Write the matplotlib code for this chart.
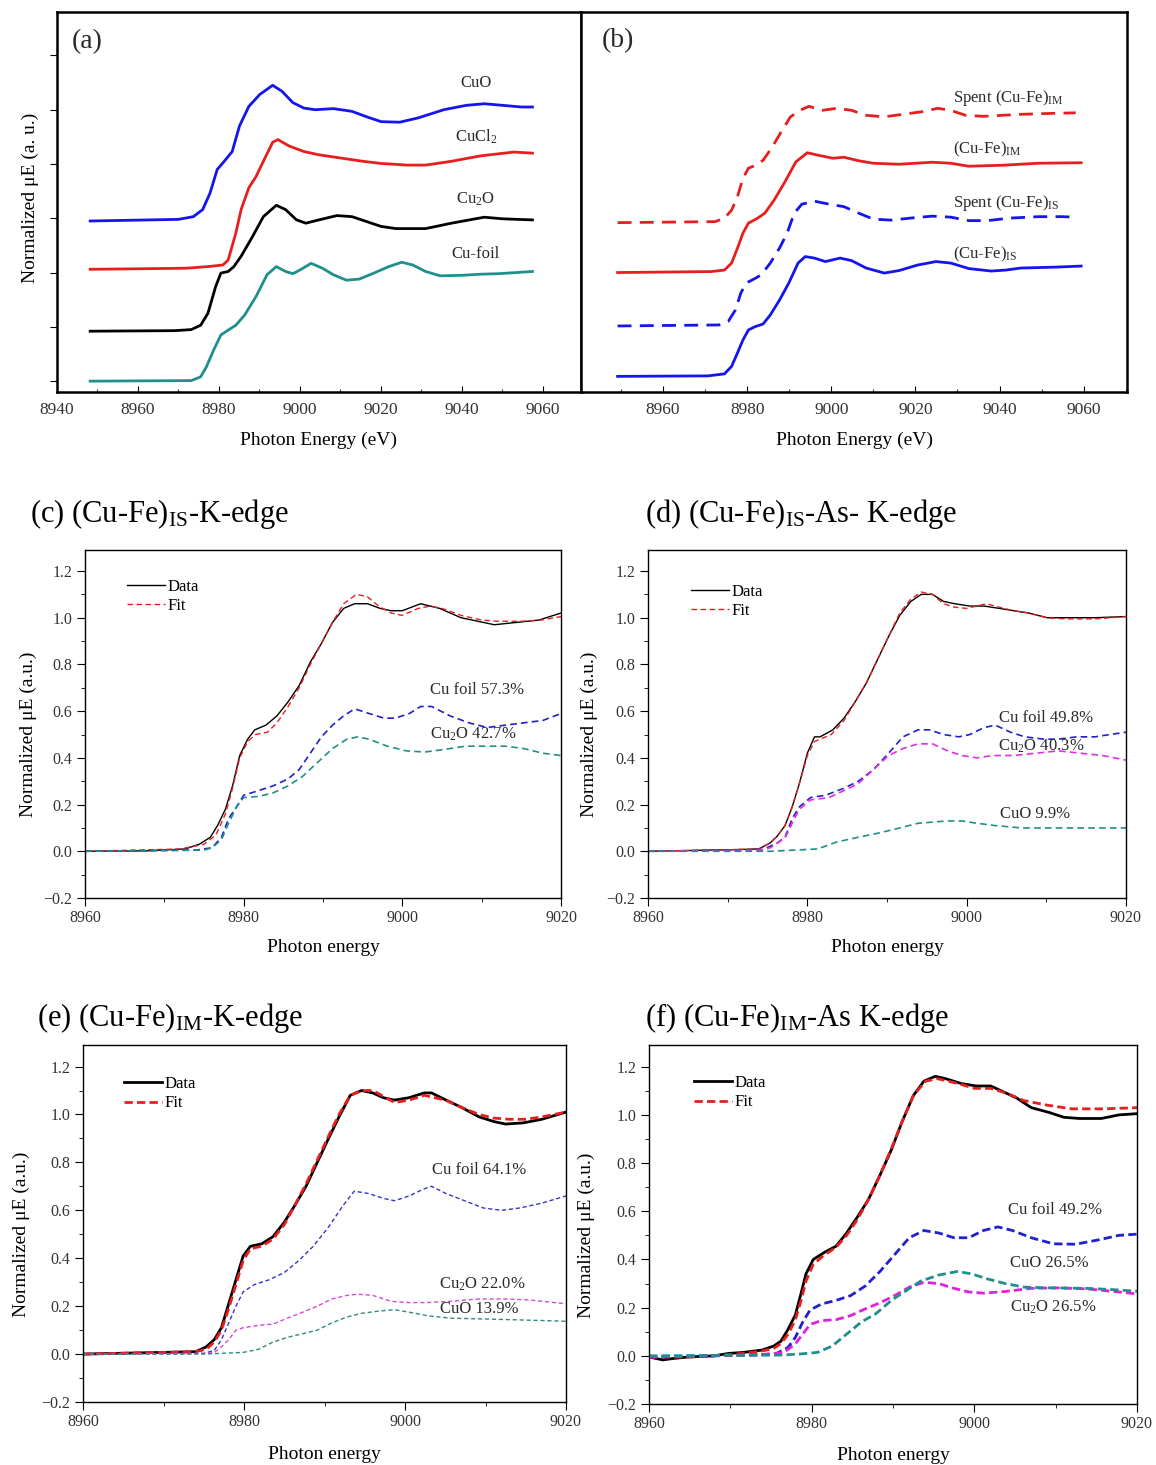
import numpy as np
import matplotlib
matplotlib.use("Agg")
import matplotlib.pyplot as plt
from matplotlib.ticker import MultipleLocator

plt.rcParams['font.family'] = ['Liberation Serif', 'DejaVu Serif']
plt.rcParams['mathtext.fontset'] = 'custom'
plt.rcParams['mathtext.rm'] = 'Liberation Serif'
plt.rcParams['mathtext.it'] = 'Liberation Serif:italic'

W, H = 1156, 1465

# ------------------------
# (a) reference spectra (stacked, arbitrary offsets)
# ------------------------
a_cuo_x = [8948.2, 8970, 8973.7, 8976, 8977.8, 8979.6, 8981, 8983.3, 8985.1, 8987.4, 8990.1, 8993.3, 8995.6,
           8998.3, 9001, 9003.8, 9008.3, 9012.9, 9016.5, 9020.1, 9024.7, 9029.3, 9035.6, 9041.1, 9045.6,
           9050.2, 9054.8, 9057.5]
a_cuo_y = [2.95, 2.98, 3.03, 3.16, 3.46, 3.90, 4.02, 4.23, 4.70, 5.06, 5.28, 5.45, 5.34, 5.13, 5.03, 5.00,
           5.02, 4.97, 4.87, 4.78, 4.77, 4.85, 5.00, 5.08, 5.11, 5.08, 5.05, 5.05]
a_cucl2_x = [8948.2, 8971.9, 8977.3, 8981, 8982.3, 8984.2, 8985.5, 8987.4, 8989.2, 8991, 8993.3, 8994.6,
             8997.4, 9001, 9004.7, 9010.1, 9015.6, 9020.1, 9026.5, 9031.1, 9037.5, 9044.7, 9052.9, 9057.5]
a_cucl2_y = [2.06, 2.08, 2.11, 2.14, 2.23, 2.73, 3.16, 3.56, 3.77, 4.05, 4.40, 4.45, 4.33, 4.23, 4.17, 4.11,
             4.05, 4.01, 3.98, 3.98, 4.05, 4.15, 4.22, 4.20]
a_cu2o_x = [8948.2, 8969.1, 8973.2, 8975.5, 8977.3, 8979.2, 8980.5, 8982.3, 8983.7, 8985.5, 8988.3, 8991,
            8994.2, 8996.5, 8999.2, 9001.5, 9004.7, 9009.2, 9012.9, 9016.5, 9020.1, 9023.8, 9031.1, 9037.5,
            9045.6, 9050.2, 9057.5]
a_cu2o_y = [0.92, 0.93, 0.95, 1.03, 1.25, 1.74, 1.99, 2.02, 2.11, 2.30, 2.66, 3.03, 3.24, 3.16, 2.97, 2.91,
            2.97, 3.05, 3.03, 2.94, 2.85, 2.81, 2.81, 2.91, 3.02, 2.99, 2.97]
a_cufoil_x = [8948.2, 8973.2, 8975.5, 8976.9, 8978.7, 8980.5, 8982.3, 8984.2, 8986.4, 8989.2, 8991.9, 8994.2,
              8996.5, 8998.3, 9000.1, 9002.8, 9005.6, 9008.3, 9011.5, 9014.7, 9018.3, 9022, 9025.2, 9027.9,
              9031.1, 9034.7, 9040.2, 9044.7, 9049.3, 9057.5]
a_cufoil_y = [0.0, 0.01, 0.08, 0.26, 0.57, 0.85, 0.94, 1.03, 1.22, 1.56, 1.96, 2.11, 2.02, 1.98, 2.05, 2.17,
              2.08, 1.96, 1.86, 1.88, 1.99, 2.11, 2.19, 2.14, 2.02, 1.94, 1.95, 1.97, 1.98, 2.02]
a_labels = ['CuO', 'CuCl$_2$', 'Cu$_2$O', 'Cu-foil']
a_label_y = [5.50, 4.51, 3.35, 2.34]

# ------------------------
# (b) catalysts, fresh and spent
# ------------------------
b_is_x = [8949.2, 8970.7, 8974.6, 8976.3, 8977.7, 8979, 8980.3, 8982, 8983.8, 8985.5, 8987.7, 8989.9, 8992.1,
          8993.8, 8996, 8998.6, 9002.1, 9004.8, 9008.3, 9012.6, 9016.1, 9020.5, 9024.9, 9028.4, 9032.7, 9038,
          9041.5, 9045, 9053.7, 9059.4]
b_is_y = [0.0, 0.01, 0.05, 0.2, 0.47, 0.73, 0.93, 1.0, 1.05, 1.23, 1.53, 1.87, 2.27, 2.40, 2.37, 2.30, 2.37,
          2.32, 2.17, 2.07, 2.12, 2.23, 2.30, 2.27, 2.16, 2.11, 2.13, 2.17, 2.19, 2.21]
b_spent_is_x = [8949.2, 8973.3, 8975.5, 8977.2, 8978.5, 8979.8, 8981.6, 8983.3, 8985.5, 8987.7, 8989.5, 8991.2,
                8993, 8996, 8999.5, 9003, 9006.5, 9010, 9014.4, 9018.7, 9024, 9028.4, 9032.7, 9037.1, 9042.3,
                9049.3, 9054.6, 9058.1]
b_spent_is_y = [1.01, 1.03, 1.10, 1.33, 1.67, 1.87, 1.95, 2.03, 2.27, 2.57, 2.87, 3.27, 3.45, 3.51, 3.45, 3.40,
                3.27, 3.15, 3.13, 3.17, 3.21, 3.19, 3.12, 3.12, 3.17, 3.20, 3.20, 3.19]
b_im_x = [8949.2, 8971.5, 8974.6, 8976.3, 8977.7, 8979, 8980.3, 8982.5, 8984.2, 8986.4, 8989, 8991.6, 8994.3,
          8996.9, 9000.4, 9003, 9006.5, 9010, 9016.1, 9024, 9028.4, 9032.7, 9040.6, 9049.3, 9059.4]
b_im_y = [2.08, 2.10, 2.13, 2.27, 2.57, 2.87, 3.07, 3.17, 3.27, 3.53, 3.90, 4.30, 4.48, 4.43, 4.37, 4.39, 4.32,
          4.27, 4.25, 4.29, 4.27, 4.21, 4.23, 4.27, 4.28]
b_spent_im_x = [8949.2, 8972.4, 8974.6, 8976.3, 8977.7, 8979, 8980.3, 8982, 8983.8, 8986, 8988.1, 8990.3,
                8992.5, 8994.7, 8997.8, 9001.3, 9004.8, 9008.3, 9012.6, 9017, 9021.4, 9025.3, 9028.4, 9031.9,
                9036.2, 9045, 9052.8, 9058.1]
b_spent_im_y = [3.08, 3.10, 3.17, 3.33, 3.60, 3.97, 4.17, 4.23, 4.33, 4.60, 4.90, 5.20, 5.33, 5.41, 5.33, 5.37,
                5.33, 5.23, 5.20, 5.25, 5.30, 5.37, 5.33, 5.23, 5.21, 5.25, 5.27, 5.28]
b_labels = ['Spent (Cu-Fe)$_{\\mathrm{IM}}$', '(Cu-Fe)$_{\\mathrm{IM}}$',
            'Spent (Cu-Fe)$_{\\mathrm{IS}}$', '(Cu-Fe)$_{\\mathrm{IS}}$']
b_label_y = [5.58, 4.55, 3.47, 2.45]

# ------------------------
# (c) (Cu-Fe)IS LCF
# ------------------------
c_data_x = [8960, 8967.9, 8972.6, 8974.4, 8975.8, 8976.7, 8977.7, 8978.6, 8979.5, 8980.5, 8981.4, 8982.8,
            8984.2, 8985.6, 8987, 8988.4, 8989.8, 8991.2, 8992.6, 8994, 8995.6, 8997.2, 8998.6, 9000, 9002.3,
            9004.7, 9007.4, 9010.2, 9011.6, 9014.4, 9017.2, 9020]
c_data_y = [0, 0.002, 0.01, 0.03, 0.06, 0.11, 0.18, 0.28, 0.41, 0.48, 0.52, 0.54, 0.58, 0.64, 0.71, 0.81, 0.89,
            0.98, 1.04, 1.06, 1.06, 1.04, 1.03, 1.03, 1.06, 1.04, 1.00, 0.98, 0.97, 0.98, 0.99, 1.02]
c_fit_x = [8960, 8972, 8975, 8976.5, 8977.7, 8978.6, 8979.5, 8980.5, 8981.5, 8983, 8984.2, 8985.6, 8987, 8988.4,
           8989.8, 8991.2, 8992.6, 8994.2, 8995.6, 8997, 8998.6, 9000, 9002, 9003.5, 9005, 9007.4, 9010, 9012,
           9015, 9017.5, 9020]
c_fit_y = [0, 0.01, 0.03, 0.07, 0.16, 0.27, 0.40, 0.47, 0.50, 0.51, 0.55, 0.62, 0.70, 0.80, 0.89, 0.98, 1.06,
           1.10, 1.09, 1.05, 1.02, 1.01, 1.04, 1.05, 1.04, 1.01, 0.99, 0.985, 0.985, 0.99, 1.005]
c_cufoil_x = [8960, 8974, 8976, 8977.2, 8978.1, 8979.1, 8980, 8981.9, 8983.7, 8985.6, 8987, 8988.4, 8989.8,
              8991.2, 8992.6, 8994, 8995.8, 8997.7, 8999.1, 9000.9, 9002.3, 9003.7, 9006, 9008.4, 9010.7, 9013,
              9015.3, 9017.7, 9020]
c_cufoil_y = [0, 0.005, 0.015, 0.06, 0.14, 0.19, 0.24, 0.26, 0.28, 0.31, 0.35, 0.42, 0.49, 0.54, 0.58, 0.61,
              0.59, 0.57, 0.57, 0.59, 0.62, 0.62, 0.58, 0.55, 0.53, 0.54, 0.55, 0.56, 0.59]
c_cu2o_x = [8960, 8975, 8976, 8977.2, 8978.1, 8979.1, 8980, 8981.9, 8983.7, 8985.6, 8987.4, 8989.3, 8991.2,
            8993, 8994.4, 8995.8, 8998.1, 9000.5, 9002.8, 9005.1, 9007.9, 9010.7, 9013, 9015.3, 9017.7, 9020]
c_cu2o_y = [0, 0.005, 0.015, 0.05, 0.12, 0.19, 0.23, 0.235, 0.25, 0.28, 0.32, 0.38, 0.44, 0.48, 0.49, 0.48,
            0.45, 0.43, 0.425, 0.435, 0.45, 0.45, 0.45, 0.44, 0.42, 0.41]

# ------------------------
# (d) (Cu-Fe)IS-As LCF
# ------------------------
d_data_x = [8960, 8970.7, 8973.9, 8975.3, 8976.2, 8977.2, 8978.1, 8979, 8980, 8980.9, 8981.6, 8983.2, 8984.6,
            8986, 8987.4, 8988.8, 8990.2, 8991.6, 8993, 8994.3, 8995.7, 8997.1, 8998.5, 9000.4, 9002.2, 9004.1,
            9005.9, 9007.8, 9010.1, 9012.4, 9016.1, 9020]
d_data_y = [0, 0.007, 0.01, 0.035, 0.064, 0.11, 0.19, 0.29, 0.42, 0.49, 0.49, 0.52, 0.57, 0.64, 0.72, 0.82,
            0.92, 1.01, 1.07, 1.10, 1.10, 1.07, 1.06, 1.05, 1.05, 1.04, 1.03, 1.02, 1.00, 1.00, 1.00, 1.005]
d_fit_x = [8960, 8970.7, 8973.9, 8975.3, 8976.2, 8977.2, 8978.1, 8979, 8980, 8980.9, 8983, 8984.6, 8986,
           8987.4, 8988.8, 8990.2, 8991.6, 8993, 8994.3, 8995.7, 8997.1, 8998.5, 9000, 9002.5, 9004.1, 9005.9,
           9007.8, 9010.1, 9012.4, 9016.1, 9020]
d_fit_y = [0, 0.007, 0.01, 0.035, 0.064, 0.11, 0.19, 0.29, 0.41, 0.47, 0.50, 0.56, 0.64, 0.72, 0.82, 0.92,
           1.02, 1.08, 1.11, 1.10, 1.06, 1.045, 1.04, 1.06, 1.045, 1.03, 1.02, 1.00, 0.995, 0.995, 1.005]
d_cufoil_x = [8960, 8974.4, 8976.2, 8977.2, 8978.1, 8979, 8980.4, 8982.3, 8984.6, 8986.4, 8988.3, 8990.2, 8992,
              8993.9, 8995.3, 8997.1, 8999, 9000.4, 9002.2, 9003.6, 9005.5, 9007.3, 9009.7, 9011.5, 9013.8,
              9016.1, 9018, 9020]
d_cufoil_y = [0, 0.007, 0.035, 0.06, 0.14, 0.19, 0.23, 0.24, 0.27, 0.30, 0.35, 0.42, 0.49, 0.52, 0.52, 0.50,
              0.49, 0.50, 0.53, 0.54, 0.51, 0.49, 0.48, 0.48, 0.49, 0.49, 0.50, 0.51]
d_cu2o_x = [8960, 8974, 8975.3, 8977.2, 8978.1, 8979, 8980.4, 8982.7, 8984.6, 8986.4, 8988.3, 8990.2, 8992,
            8993.9, 8995.7, 8997.6, 8999.4, 9001.3, 9003.2, 9005.9, 9008.7, 9011.5, 9014.3, 9017.1, 9020]
d_cu2o_y = [0, 0.005, 0.014, 0.057, 0.12, 0.18, 0.22, 0.23, 0.26, 0.29, 0.35, 0.41, 0.44, 0.46, 0.46, 0.43,
            0.41, 0.40, 0.41, 0.41, 0.42, 0.43, 0.42, 0.41, 0.39]
d_cuo_x = [8960, 8975.3, 8981.3, 8983.7, 8986.4, 8989.2, 8991.6, 8993.9, 8995.7, 8997.6, 8999.4, 9001.3,
           9003.6, 9006.9, 9011.5, 9016.1, 9020]
d_cuo_y = [0, 0, 0.01, 0.04, 0.06, 0.08, 0.10, 0.12, 0.125, 0.13, 0.13, 0.12, 0.11, 0.10, 0.10, 0.10, 0.10]

# ------------------------
# (e) (Cu-Fe)IM LCF
# ------------------------
e_data_x = [8960, 8974, 8975.3, 8976.3, 8977.2, 8978.1, 8979, 8979.9, 8980.8, 8982.2, 8983.6, 8985, 8986.3,
            8987.7, 8989.1, 8990.5, 8991.8, 8993.2, 8994.6, 8996, 8997.3, 8998.7, 9000.5, 9002.4, 9003.3,
            9005.1, 9007, 9009.2, 9011.1, 9012.5, 9014.7, 9017, 9020]
e_data_y = [0, 0.01, 0.03, 0.06, 0.11, 0.21, 0.31, 0.41, 0.45, 0.46, 0.49, 0.55, 0.62, 0.70, 0.80, 0.90, 0.99,
            1.08, 1.10, 1.09, 1.07, 1.06, 1.07, 1.09, 1.09, 1.06, 1.03, 0.99, 0.97, 0.96, 0.965, 0.98, 1.01]
e_fit_x = [8960, 8974, 8975.3, 8976.3, 8977.2, 8978.1, 8979, 8979.9, 8980.8, 8982.2, 8983.6, 8985, 8986.3,
           8987.7, 8989.1, 8990.5, 8991.8, 8993.2, 8994.6, 8996, 8998.7, 9000.5, 9002.4, 9005, 9007, 9009.2,
           9011, 9013, 9015, 9017, 9020]
e_fit_y = [0, 0.01, 0.02, 0.05, 0.10, 0.19, 0.29, 0.39, 0.44, 0.45, 0.48, 0.54, 0.62, 0.71, 0.81, 0.91, 1.00,
           1.08, 1.10, 1.10, 1.05, 1.06, 1.08, 1.06, 1.03, 1.00, 0.985, 0.98, 0.98, 0.99, 1.01]
e_cufoil_x = [8960, 8975, 8976.3, 8977.2, 8978.1, 8979, 8979.9, 8981.3, 8983.1, 8985, 8986.8, 8988.6, 8990.5,
              8992.3, 8993.7, 8995.5, 8997.3, 8998.7, 9000.5, 9002.4, 9003.3, 9005.1, 9007.4, 9009.7, 9012,
              9014.3, 9017, 9020]
e_cufoil_y = [0, 0.003, 0.015, 0.06, 0.13, 0.20, 0.26, 0.29, 0.31, 0.34, 0.39, 0.45, 0.53, 0.62, 0.68, 0.67,
              0.65, 0.64, 0.66, 0.69, 0.70, 0.67, 0.64, 0.61, 0.60, 0.61, 0.63, 0.66]
e_cu2o_x = [8960, 8975, 8976.3, 8977.2, 8978.1, 8979, 8979.9, 8981.8, 8983.6, 8985.4, 8987.3, 8989.1, 8990.9,
            8992.8, 8994.1, 8996, 8998.3, 9000.5, 9002.8, 9005.6, 9009.2, 9012.9, 9015.7, 9020]
e_cu2o_y = [0, 0.003, 0.007, 0.03, 0.06, 0.10, 0.11, 0.12, 0.125, 0.15, 0.175, 0.20, 0.23, 0.245, 0.25, 0.245,
            0.22, 0.215, 0.215, 0.22, 0.23, 0.23, 0.225, 0.21]
e_cuo_x = [8960, 8975, 8979.9, 8981.8, 8983.6, 8985.4, 8987.3, 8989.1, 8990.9, 8992.8, 8994.6, 8996.9, 8998.7,
           9000.5, 9002.8, 9005.6, 9009.2, 9013.8, 9020]
e_cuo_y = [0, 0, 0.007, 0.02, 0.05, 0.07, 0.085, 0.10, 0.13, 0.155, 0.17, 0.18, 0.185, 0.175, 0.16, 0.15,
           0.147, 0.143, 0.137]

# ------------------------
# (f) (Cu-Fe)IM-As LCF
# ------------------------
f_data_x = [8960, 8961.7, 8963, 8964.8, 8968, 8969.8, 8971.6, 8973.9, 8975.3, 8976.2, 8977.1, 8978, 8978.7,
            8979.3, 8980.2, 8981.6, 8983, 8984.3, 8985.7, 8987, 8988.4, 8989.8, 8991.1, 8992.5, 8993.8, 8995.2,
            8996.5, 8998.4, 9000.2, 9002, 9003.3, 9005.2, 9007, 9009.2, 9011, 9012.9, 9015.6, 9017.8, 9020]
f_data_y = [-0.005, -0.017, -0.011, -0.005, 0, 0.01, 0.014, 0.024, 0.04, 0.06, 0.11, 0.17, 0.26, 0.34, 0.40,
            0.43, 0.455, 0.51, 0.58, 0.65, 0.75, 0.855, 0.97, 1.08, 1.14, 1.16, 1.15, 1.13, 1.12, 1.12, 1.10,
            1.07, 1.03, 1.01, 0.99, 0.985, 0.985, 1.0, 1.005]
f_fit_x = [8960, 8964.8, 8968, 8971.6, 8973.9, 8975.3, 8976.2, 8977.1, 8978, 8978.7, 8979.3, 8980.2, 8981.6,
           8983, 8984.3, 8985.7, 8987, 8988.4, 8989.8, 8991.1, 8992.5, 8994, 8995.5, 8998, 9000, 9002, 9004,
           9006, 9009, 9012, 9016, 9020]
f_fit_y = [-0.005, -0.005, 0, 0.01, 0.02, 0.03, 0.05, 0.09, 0.15, 0.23, 0.31, 0.38, 0.42, 0.45, 0.50, 0.57,
           0.65, 0.75, 0.86, 0.97, 1.08, 1.14, 1.15, 1.13, 1.11, 1.11, 1.09, 1.06, 1.04, 1.025, 1.025, 1.03]
f_cufoil_x = [8960, 8968, 8974, 8975.7, 8977.1, 8978, 8978.9, 8979.8, 8981.2, 8983, 8984.8, 8986.6, 8988.4,
              8990.2, 8992, 8993.8, 8995.6, 8997.5, 8999.3, 9001.1, 9002.9, 9004.7, 9007, 9009.7, 9012.4,
              9015.1, 9017.8, 9020]
f_cufoil_y = [-0.005, 0, 0.005, 0.01, 0.035, 0.077, 0.14, 0.19, 0.215, 0.23, 0.25, 0.29, 0.35, 0.42, 0.49,
              0.52, 0.51, 0.49, 0.49, 0.52, 0.535, 0.52, 0.49, 0.465, 0.463, 0.48, 0.50, 0.505]
f_cu2o_x = [8960, 8968, 8974, 8976.6, 8978, 8978.9, 8979.8, 8981.2, 8983, 8984.8, 8986.6, 8988.4, 8990.2,
            8992, 8993.8, 8995.6, 8997.5, 8999.3, 9001.1, 9003.8, 9007, 9010.1, 9013.8, 9016.9, 9020]
f_cu2o_y = [-0.005, 0, 0.005, 0.014, 0.05, 0.09, 0.13, 0.146, 0.15, 0.167, 0.195, 0.22, 0.25, 0.285, 0.305,
            0.30, 0.28, 0.265, 0.26, 0.267, 0.28, 0.282, 0.278, 0.268, 0.257]
f_cuo_x = [8960, 8976, 8978.4, 8980.7, 8982.5, 8984.3, 8986.1, 8987.9, 8989.8, 8991.6, 8993.4, 8995.6, 8997.9,
           8999.7, 9001.5, 9003.8, 9006.1, 9009.2, 9013.8, 9016.9, 9020]
f_cuo_y = [0, 0.003, 0.007, 0.014, 0.04, 0.09, 0.14, 0.175, 0.23, 0.27, 0.31, 0.335, 0.35, 0.34, 0.32, 0.30,
           0.285, 0.282, 0.28, 0.275, 0.268]

BLUE = '#1414ee'
RED = '#e81e1e'
TEAL = '#1f8f8c'
MAG = '#e030e0'
TXT = '#2a2a2a'


def rect(l, t, r, b):
    return [l / W, 1 - b / H, (r - l) / W, (b - t) / H]


fig = plt.figure(figsize=(W / 100, H / 100), dpi=100)

# ------------------------
# top row
# ------------------------
ax_a = fig.add_axes(rect(57, 12, 581, 392))
ax_b = fig.add_axes(rect(581, 12, 1127, 392))

ax_a.plot(a_cuo_x, a_cuo_y, color=BLUE, lw=2)
ax_a.plot(a_cucl2_x, a_cucl2_y, color=RED, lw=2)
ax_a.plot(a_cu2o_x, a_cu2o_y, color='black', lw=2)
ax_a.plot(a_cufoil_x, a_cufoil_y, color=TEAL, lw=2)
for lab, yy in zip(a_labels, a_label_y):
    ax_a.text(9043.5, yy, lab, ha='center', va='center', fontsize=12, color=TXT)
ax_a.set_xlim(8940, 9069.5)
ax_a.set_ylim(-0.2, 6.8)
ax_a.set_xticks(np.arange(8940, 9061, 20))
ax_a.xaxis.set_minor_locator(MultipleLocator(10))
ax_a.set_yticks(np.arange(0, 7, 1))
ax_a.set_yticklabels([])
ax_a.tick_params(axis='x', which='both', direction='in', labelsize=12.5, pad=7, labelcolor='#333333')
ax_a.tick_params(axis='x', which='major', length=4.5)
ax_a.tick_params(axis='x', which='minor', length=2.5)
ax_a.tick_params(axis='y', direction='out', length=5)
ax_a.set_xlabel('Photon Energy (eV)', fontsize=14)
ax_a.xaxis.set_label_coords(0.5, -0.105)
ax_a.set_ylabel('Normalized μE (a. u.)', fontsize=14)
ax_a.yaxis.set_label_coords(-0.034, 0.51)
ax_a.text(0.029, 0.921, '(a)', transform=ax_a.transAxes, fontsize=20, va='center', ha='left', color=TXT)

ax_b.plot(b_spent_im_x, b_spent_im_y, color=RED, lw=2, dashes=(5, 3))
ax_b.plot(b_im_x, b_im_y, color=RED, lw=2)
ax_b.plot(b_spent_is_x, b_spent_is_y, color=BLUE, lw=2, dashes=(5, 3))
ax_b.plot(b_is_x, b_is_y, color=BLUE, lw=2)
for lab, yy in zip(b_labels, b_label_y):
    ax_b.text(9029, yy, lab, ha='left', va='center', fontsize=12, color=TXT)
ax_b.set_xlim(8940.5, 9070.3)
ax_b.set_ylim(-0.313, 7.3)
ax_b.set_xticks(np.arange(8960, 9061, 20))
ax_b.xaxis.set_minor_locator(MultipleLocator(10))
ax_b.set_yticks([])
ax_b.tick_params(axis='x', which='both', direction='in', labelsize=12.5, pad=7, labelcolor='#333333')
ax_b.tick_params(axis='x', which='major', length=4.5)
ax_b.tick_params(axis='x', which='minor', length=2.5)
ax_b.set_xlabel('Photon Energy (eV)', fontsize=14)
ax_b.xaxis.set_label_coords(0.5, -0.105)
ax_b.text(0.038, 0.926, '(b)', transform=ax_b.transAxes, fontsize=20, va='center', ha='left', color=TXT)

for ax in (ax_a, ax_b):
    for s in ax.spines.values():
        s.set_linewidth(1.8)


# ------------------------
# LCF panels
# ------------------------
def lcf_panel(box, title, title_pos, data, fit, comps, texts, leg_anchor, lw_main, lw_comp, comp_dash, fit_dash,
              ylab_x, xlab_y):
    ax = fig.add_axes(rect(*box))
    ax.plot(*data, color='black', lw=lw_main, label='Data')
    ax.plot(*fit, color=RED, lw=lw_main, dashes=fit_dash, label='Fit')
    for (xx, yy, col) in comps:
        ax.plot(xx, yy, color=col, lw=lw_comp, dashes=comp_dash)
    for (tx, ty, s) in texts:
        ax.text(tx, ty, s, ha='center', va='center', fontsize=12, color=TXT)
    ax.set_xlim(8960, 9020)
    ax.set_ylim(-0.2, 1.29)
    ax.set_xticks([8960, 8980, 9000, 9020])
    ax.xaxis.set_minor_locator(MultipleLocator(10))
    ax.set_yticks(np.round(np.arange(-0.2, 1.21, 0.2), 1))
    ax.yaxis.set_minor_locator(MultipleLocator(0.1))
    ax.tick_params(which='both', direction='out', labelsize=11.5, pad=3, labelcolor='#333333')
    ax.tick_params(which='major', length=6)
    ax.tick_params(which='minor', length=3)
    ax.set_xlabel('Photon energy', fontsize=14)
    ax.xaxis.set_label_coords(0.5, xlab_y)
    ax.set_ylabel('Normalized μE (a.u.)', fontsize=14)
    ax.yaxis.set_label_coords(ylab_x, 0.47)
    ax.legend(loc='upper left', bbox_to_anchor=leg_anchor, frameon=False, fontsize=12, borderpad=0,
              borderaxespad=0, handlelength=2.3, handletextpad=0.15, labelspacing=0.2)
    fig.text(title_pos[0] / W, 1 - title_pos[1] / H, title, fontsize=22, ha='left', va='baseline')
    for s in ax.spines.values():
        s.set_linewidth(1.0)
    return ax


lcf_panel((85, 550, 561, 898), '(c) (Cu-Fe)$_{\\mathrm{IS}}$-K-edge', (30, 522),
          (c_data_x, c_data_y), (c_fit_x, c_fit_y),
          [(c_cufoil_x, c_cufoil_y, '#2020d0'), (c_cu2o_x, c_cu2o_y, TEAL)],
          [(9009.4, 0.69, 'Cu foil 57.3%'), (9008.9, 0.50, 'Cu$_2$O 42.7%')],
          (0.088, 0.917), 1.0, 1.2, (4, 2.5), (4, 2.5), -0.101, -0.118)

lcf_panel((648, 550, 1126, 898), '(d) (Cu-Fe)$_{\\mathrm{IS}}$-As- K-edge', (645, 522),
          (d_data_x, d_data_y), (d_fit_x, d_fit_y),
          [(d_cufoil_x, d_cufoil_y, '#2020d0'), (d_cu2o_x, d_cu2o_y, MAG), (d_cuo_x, d_cuo_y, TEAL)],
          [(9010, 0.57, 'Cu foil 49.8%'), (9009.4, 0.45, 'Cu$_2$O 40.3%'), (9008.6, 0.16, 'CuO 9.9%')],
          (0.089, 0.903), 1.0, 1.2, (4, 2.5), (4, 2.5), -0.105, -0.118)

lcf_panel((83, 1045, 566, 1402), '(e) (Cu-Fe)$_{\\mathrm{IM}}$-K-edge', (37, 1026),
          (e_data_x, e_data_y), (e_fit_x, e_fit_y),
          [(e_cufoil_x, e_cufoil_y, '#3535c8'), (e_cu2o_x, e_cu2o_y, '#d848d8'), (e_cuo_x, e_cuo_y, '#2f8a7e')],
          [(9009.2, 0.77, 'Cu foil 64.1%'), (9009.6, 0.29, 'Cu$_2$O 22.0%'), (9009.2, 0.19, 'CuO 13.9%')],
          (0.085, 0.913), 2.0, 1.0, (3, 2), (3, 1.5), -0.11, -0.123)

lcf_panel((649, 1045, 1137, 1404), '(f) (Cu-Fe)$_{\\mathrm{IM}}$-As K-edge', (645, 1026),
          (f_data_x, f_data_y), (f_fit_x, f_fit_y),
          [(f_cufoil_x, f_cufoil_y, '#2020d0'), (f_cu2o_x, f_cu2o_y, '#e020e0'), (f_cuo_x, f_cuo_y, TEAL)],
          [(9009.9, 0.605, 'Cu foil 49.2%'), (9009.2, 0.385, 'CuO 26.5%'), (9009.7, 0.20, 'Cu$_2$O 26.5%')],
          (0.092, 0.916), 2.0, 2.0, (3, 1.5), (3, 1.5), -0.11, -0.12)

fig.savefig('out.png', dpi=100)
